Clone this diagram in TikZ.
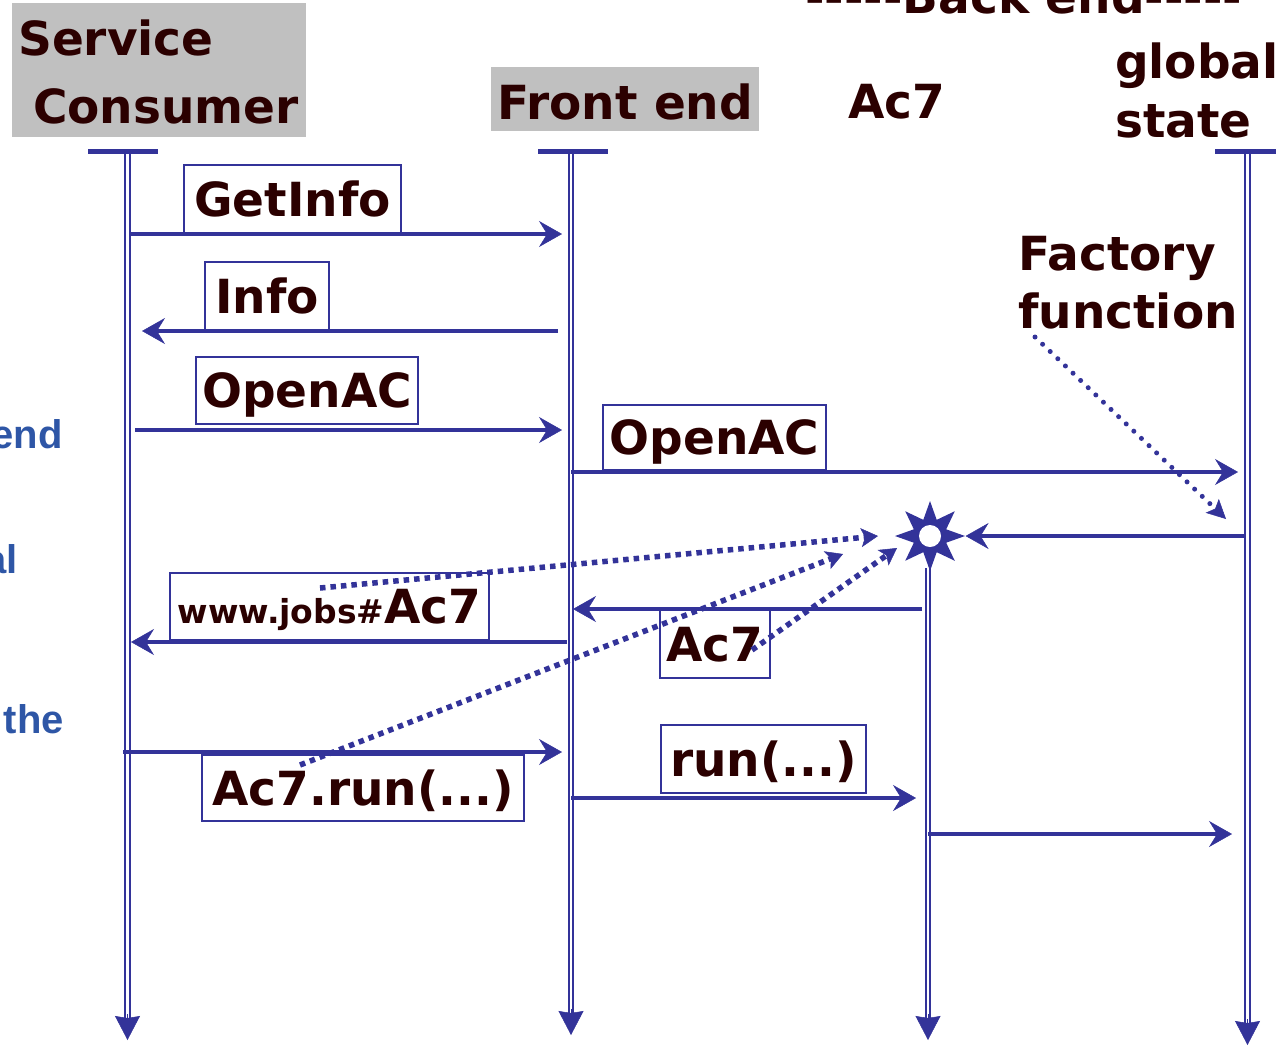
\documentclass[tikz,border=0pt]{standalone}
\usepackage{fontspec}
\setmainfont{DejaVu Sans}
\newfontfamily\notefont{Liberation Sans}
\usetikzlibrary{arrows.meta,shapes.geometric}

\definecolor{seqblue}{RGB}{51,51,153}
\definecolor{ink}{RGB}{43,0,0}
\definecolor{headgray}{RGB}{192,192,192}
\definecolor{noteblue}{RGB}{46,86,166}

% a single hyphen that never joins its neighbours into a dash ligature
\newcommand{\hy}{-\kern0pt}

\tikzset{
  big/.style={font=\fontsize{47}{57}\selectfont\bfseries, text=ink, inner sep=0pt},
  note/.style={font=\notefont\fontsize{40}{48}\selectfont\bfseries, text=noteblue, inner sep=0pt},
  msgbox/.style={big, draw=seqblue, line width=2pt, fill=white, text height=34pt, text depth=0pt},
  headbox/.style={fill=headgray, inner sep=0pt, anchor=north west},
  msg/.style={draw=seqblue, line width=4.5pt, -{Stealth[length=23pt,width=26pt,inset=8pt,line width=0.5pt]}},
  life/.style={draw=seqblue, line width=2pt, double=white, double distance=2.6pt},
  lifetip/.style={draw=seqblue, line width=1pt, -{Stealth[length=24pt,width=25pt,inset=2pt,line width=0.5pt]}},
  lifebar/.style={draw=seqblue, line width=5pt},
  hint/.style={draw=seqblue, line width=5.5pt, dash pattern=on 5.5pt off 5pt,
    -{Stealth[length=17pt,width=19pt,inset=4pt,line width=0.5pt]}},
  factoryhint/.style={draw=seqblue, line width=5pt, line cap=round, dash pattern=on 0pt off 10.5pt,
    -{Stealth[length=19pt,width=19pt,inset=4pt,line width=0.5pt]}},
}

\begin{document}
\begin{tikzpicture}[x=1pt, y=-1pt]
\useasboundingbox (0,0) rectangle (1276,1045);

% ---- participant headers ----
\node[headbox, minimum width=294pt, minimum height=134pt] (consHead) at (12,3) {};
\node[big, anchor=base west] (consName1) at (18,55) {Service};
\node[big, anchor=base west] (consName2) at (33,123) {Consumer};

\node[headbox, minimum width=268pt, minimum height=64pt] (frontHead) at (491,67) {};
\node[big, anchor=base west] (frontName) at (497,119) {Front end};

\node[big, anchor=base west] (ac7Name) at (848,118) {Ac7};
\node[big, anchor=base west] (globName1) at (1115,78) {global};
\node[big, anchor=base west] (globName2) at (1115,137) {state};
\node[big, anchor=base west] (backEnd) at (805,13) {\hy\hy\hy\hy\hy Back end\hy\hy\hy\hy\hy};

\node[big, anchor=base west] (factory1) at (1018,270) {Factory};
\node[big, anchor=base west] (factory2) at (1018,328) {function};

% ---- margin notes ----
\node[note, anchor=base east] (noteA) at (63,448) {end};
\node[note, anchor=base east] (noteB) at (18,573) {al};
\node[note, anchor=base east] (noteC) at (64,733) {the};

% ---- lifelines ----
\coordinate (consTop) at (127.5,151);
\coordinate (consEnd) at (127.5,1040);
\coordinate (frontTop) at (571,151);
\coordinate (frontEnd) at (571,1035);
\coordinate (ac7Top) at (928,568);
\coordinate (ac7End) at (928,1040);
\coordinate (globTop) at (1247.5,151);
\coordinate (globEnd) at (1247.5,1045);

\foreach \p in {cons,front,ac7,glob}{
  \draw[life] (\p Top) -- ([yshift=20pt]\p End);
  \draw[lifetip] ([yshift=26pt]\p End) -- (\p End);
}
\draw[lifebar] (88,151) -- (158,151);
\draw[lifebar] (538,151) -- (608,151);
\draw[lifebar] (1215,151) -- (1276,151);

% ---- message labels ----
\node[msgbox, minimum width=217pt, minimum height=68pt] (mGet) at (292.5,199) {GetInfo};
\node[msgbox, minimum width=124pt, minimum height=68pt] (mInfo) at (267,296) {Info};
\node[msgbox, minimum width=222pt, minimum height=67pt] (mOpen1) at (307,390.5) {OpenAC};
\node[msgbox, minimum width=223pt, minimum height=65pt] (mOpen2) at (714.5,437.5) {OpenAC};
\node[msgbox, minimum width=319pt, minimum height=67pt] (mUrl) at (329.5,606.5)
  {{\fontsize{33}{40}\selectfont www.jobs\#}Ac7};
\node[msgbox, minimum width=110pt, minimum height=68pt] (mAc7) at (715,644) {Ac7};
\node[msgbox, minimum width=205pt, minimum height=68pt] (mRun) at (763.5,759) {run(...)};
\node[msgbox, minimum width=322pt, minimum height=66pt] (mCall) at (363,788) {Ac7.run(...)};

% ---- spawned object ----
\node[star, star points=8, star point ratio=2.0, minimum size=70pt, fill=seqblue, inner sep=0pt]
  (spawn) at (930,536) {};
\fill[white] (spawn.center) circle (11pt);

% ---- messages ----
\draw[msg, shorten <=3pt, shorten >=9pt] (consTop |- 0,234) -- (frontTop |- 0,234);
\draw[msg, shorten <=13pt, shorten >=14.5pt] (frontTop |- 0,331) -- (consTop |- 0,331);
\draw[msg, shorten <=7.5pt, shorten >=9pt] (consTop |- 0,430) -- (frontTop |- 0,430);
\draw[msg, shorten >=9.5pt] (frontTop |- 0,472) -- (globTop |- 0,472);
\draw[msg, shorten <=2pt] (globTop |- 0,536) -- (spawn);
\draw[msg, shorten <=6pt, shorten >=2pt] (ac7Top |- 0,609) -- (frontTop |- 0,609);
\draw[msg, shorten <=4pt, shorten >=3.5pt] (frontTop |- 0,642) -- (consTop |- 0,642);
\draw[msg, shorten <=-4.5pt, shorten >=9pt] (consTop |- 0,752) -- (frontTop |- 0,752);
\draw[msg, shorten >=12pt] (frontTop |- 0,798) -- (ac7Top |- 0,798);
\draw[msg, shorten >=15.5pt] (ac7Top |- 0,834) -- (globTop |- 0,834);

% ---- references to the new object ----
\coordinate (hintA0) at (320,588);
\coordinate (hintA1) at (878,536);
\coordinate (hintB0) at (300,765);
\coordinate (hintB1) at (843,554);
\coordinate (hintC0) at (752,650);
\coordinate (hintC1) at (897,548);
\coordinate (factory0) at (1035,337);
\coordinate (factory1end) at (1226,519);
\draw[hint] (hintA0) -- (hintA1);
\draw[hint] (hintB0) -- (hintB1);
\draw[hint] (hintC0) -- (hintC1);
\draw[factoryhint] (factory0) -- (factory1end);
\end{tikzpicture}
\end{document}
